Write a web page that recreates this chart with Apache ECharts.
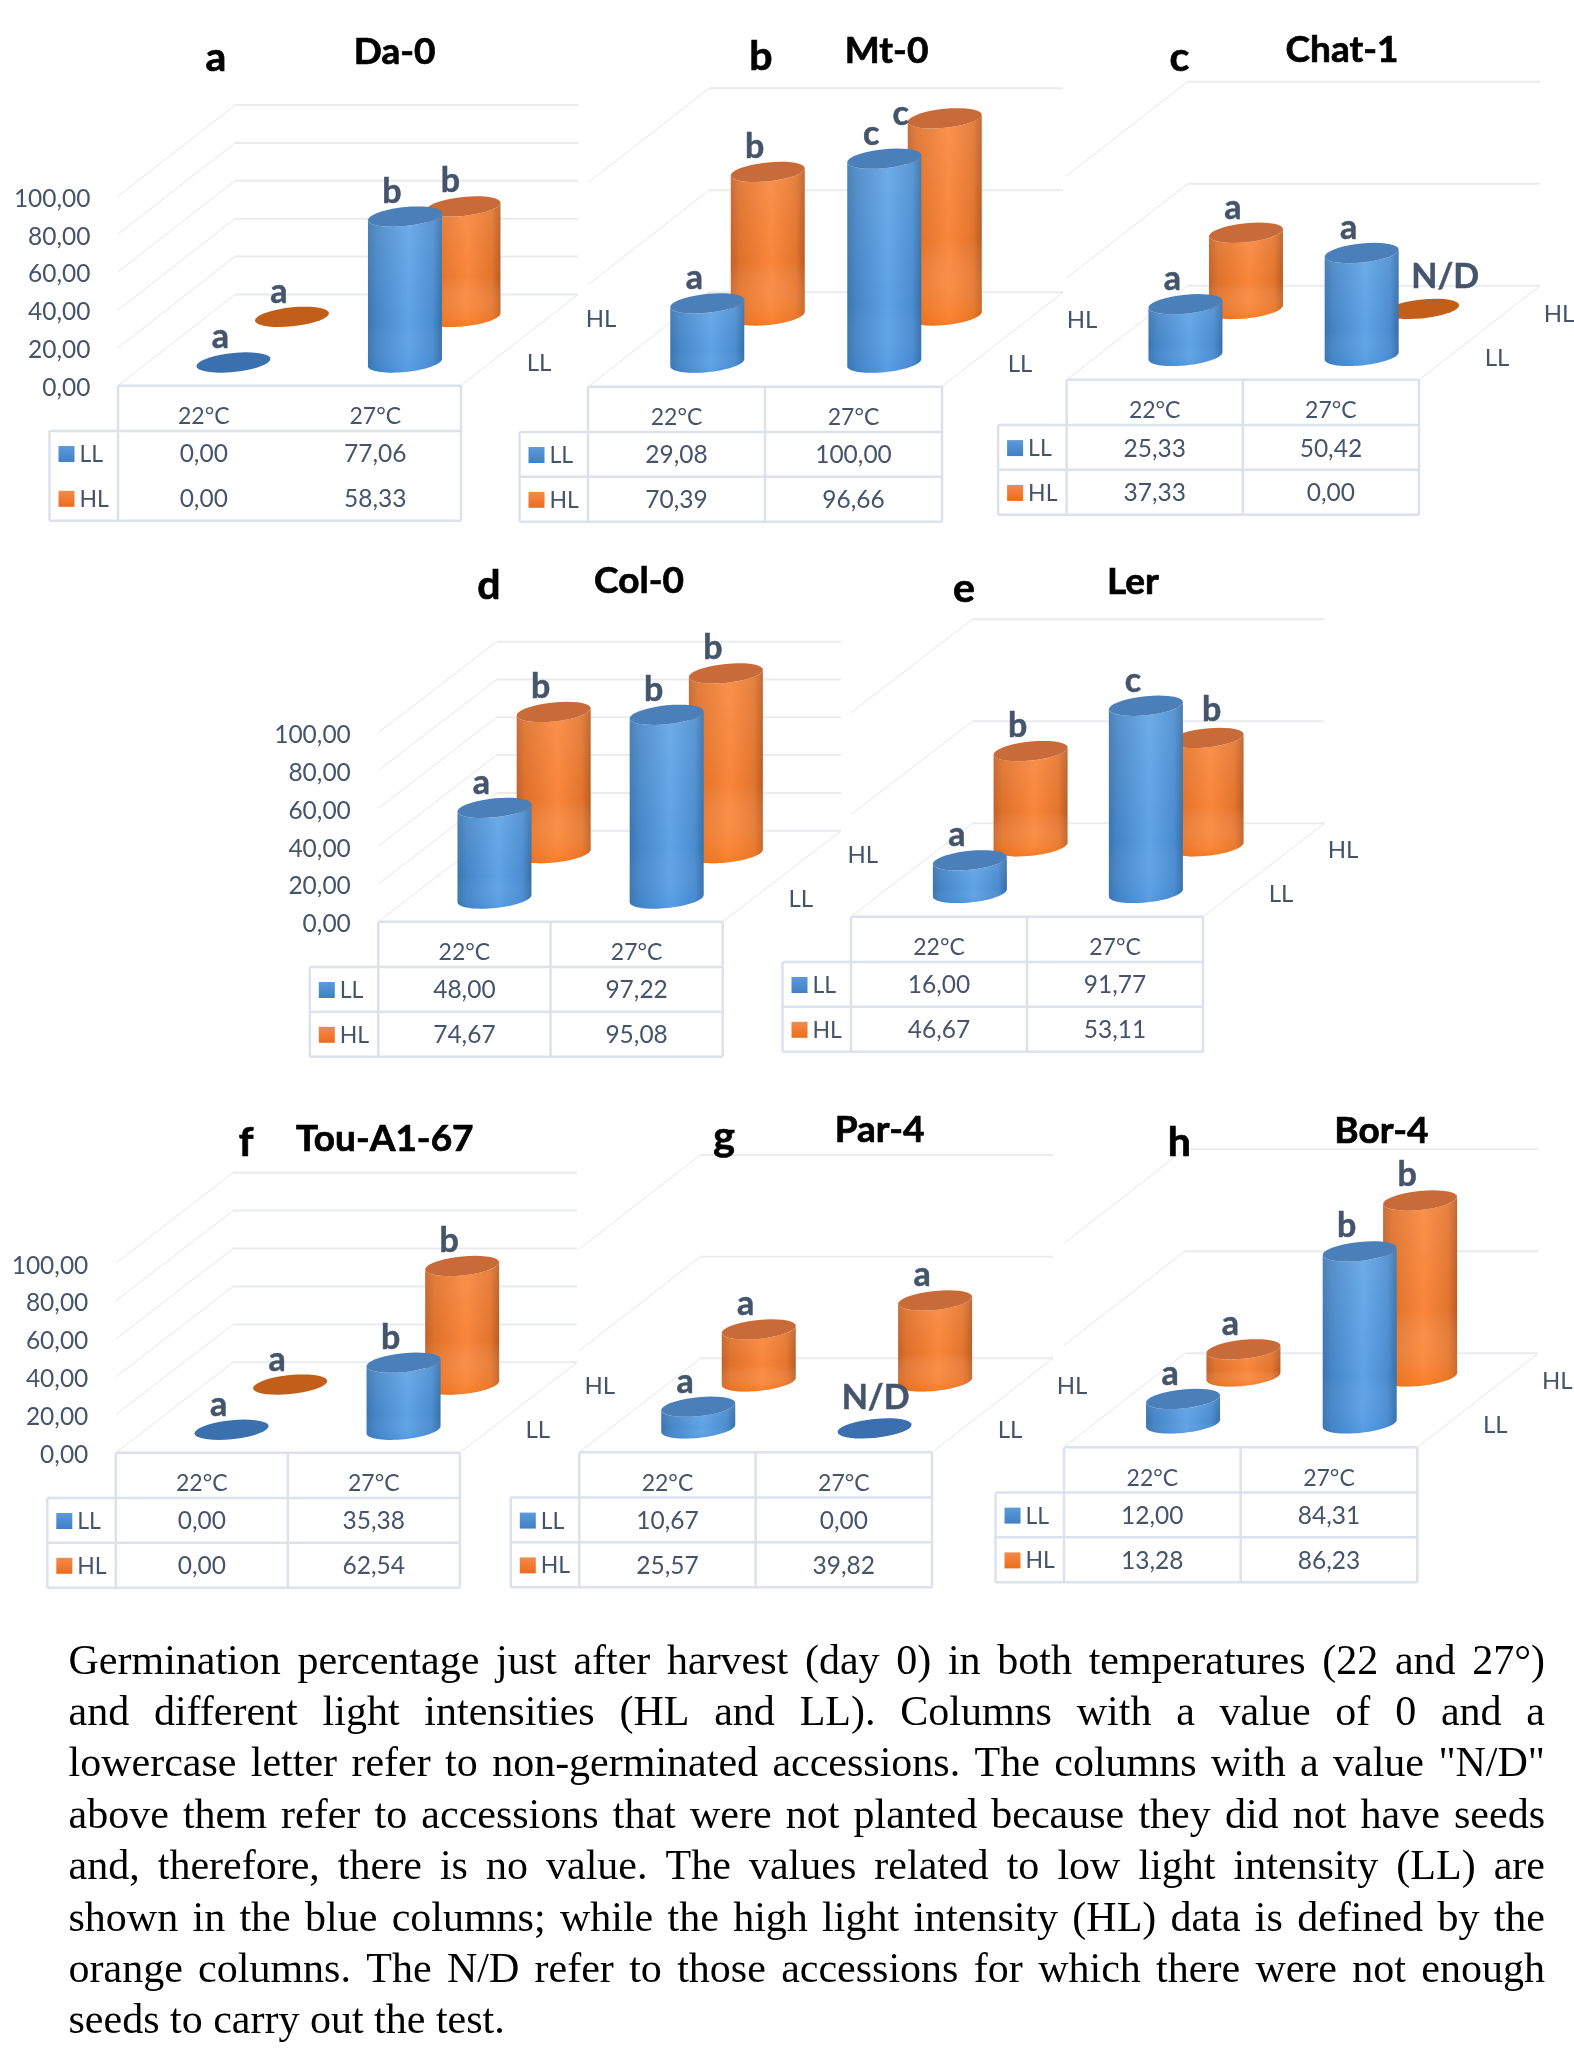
<!DOCTYPE html>
<html>
<head>
<meta charset="utf-8">
<style>html,body{margin:0;padding:0;background:#fff}#chart{width:1574px;height:2051px}</style>
<script src="https://cdn.jsdelivr.net/npm/echarts@6/dist/echarts.min.js"></script>
</head>
<body>
<div id="chart"></div>
<script>
// Germination percentage per accession, temperature and light intensity
const accessions = ['Da-0', 'Mt-0', 'Chat-1', 'Col-0', 'Ler', 'Tou-A1-67', 'Par-4', 'Bor-4'];
const panelLetters = ['a', 'b', 'c', 'd', 'e', 'f', 'g', 'h'];
const temperatures = ['22°C', '27°C'];
const lightLevels = ['LL', 'HL'];
const lowLight = [[0, 77.06], [29.08, 100], [25.33, 50.42], [48, 97.22], [16, 91.77], [0, 35.38], [10.67, 0], [12, 84.31]];
const highLight = [[0, 58.33], [70.39, 96.66], [37.33, 0], [74.67, 95.08], [46.67, 53.11], [0, 62.54], [25.57, 39.82], [13.28, 86.23]];
const lowLightMarks = [['a', 'b'], ['a', 'c'], ['a', 'a'], ['a', 'b'], ['a', 'c'], ['a', 'b'], ['a', 'N/D'], ['a', 'b']];
const highLightMarks = [['a', 'b'], ['b', 'c'], ['a', 'N/D'], ['b', 'b'], ['b', 'b'], ['a', 'b'], ['a', 'a'], ['a', 'b']];
const captionLines = [
  'Germination percentage just after harvest (day 0) in both temperatures (22 and 27°)',
  'and different light intensities (HL and LL). Columns with a value of 0 and a',
  'lowercase letter refer to non-germinated accessions. The columns with a value "N/D"',
  'above them refer to accessions that were not planted because they did not have seeds',
  'and, therefore, there is no value. The values related to low light intensity (LL) are',
  'shown in the blue columns; while the high light intensity (HL) data is defined by the',
  'orange columns. The N/D refer to those accessions for which there were not enough',
  'seeds to carry out the test.'
];

// Front floor corner, floor width, receding depth and wall height of every panel
const frames = [
  { x: 118, y: 385.7, w: 343, dx: 117, dy: -91.3, h: 189.4, step: 20, axis: true, rules: false, titleAt: [394.6, 52], letterAt: [216, 58] },
  { x: 588, y: 386.7, w: 354, dx: 121, dy: -94.4, h: 204, step: 50, axis: false, rules: true, titleAt: [886.6, 51], letterAt: [760.8, 57] },
  { x: 1066.6, y: 379.8, w: 352.4, dx: 121, dy: -94, h: 204, step: 50, axis: false, rules: true, titleAt: [1342, 50], letterAt: [1179.4, 58] },
  { x: 378.3, y: 921.7, w: 344.4, dx: 118.4, dy: -91, h: 189, step: 20, axis: true, rules: true, titleAt: [639, 581], letterAt: [489, 586] },
  { x: 851, y: 916.7, w: 352, dx: 121.4, dy: -93.4, h: 204, step: 50, axis: false, rules: true, titleAt: [1133, 582], letterAt: [964, 589] },
  { x: 115.8, y: 1452.7, w: 344, dx: 117.2, dy: -90.4, h: 189.6, step: 20, axis: true, rules: true, titleAt: [384.8, 1139], letterAt: [246, 1143] },
  { x: 579.3, y: 1452.3, w: 352.7, dx: 121, dy: -94, h: 203.3, step: 50, axis: false, rules: true, titleAt: [879.6, 1130], letterAt: [724, 1137] },
  { x: 1064, y: 1447.3, w: 353.3, dx: 120.8, dy: -94, h: 204, step: 50, axis: false, rules: true, titleAt: [1381.4, 1131], letterAt: [1179.4, 1143] }
];

// Hand-placed significance letters that do not sit at the usual spot: [panel, light, temperature, dx, dy]
const letterNudges = [[1, 'HL', 1, -44, -4], [2, 'HL', 1, 23, -32], [4, 'HL', 1, 5, -28], [6, 'LL', 1, 1, -30]];

const INK = '#44546a';
const RULE = '#dbe2ec';
const SANS = 'Lato, "Open Sans", sans-serif';
const RADIUS_X = 37, RADIUS_Y = 9.5, SHEAR = 3.6;
const DEPTH = { LL: 0.265, HL: 0.765 };
const CYLINDER_SHIFT = [-1.3, 1];

const palettes = {
  LL: {
    side: [[0, '#3b74ae'], [0.12, '#4585c6'], [0.55, '#5ea3e6'], [0.88, '#4a8cd0'], [1, '#366fa8']],
    shade: [[0, 'rgba(255,255,255,0.10)'], [0.7, 'rgba(255,255,255,0)'], [1, 'rgba(20,110,210,0.14)']],
    cap: '#4a7fb9',
    flat: '#3a70ad',
    swatch: [[0, '#5c9bd8'], [1, '#3f80c6']]
  },
  HL: {
    side: [[0, '#c2612a'], [0.12, '#df7029'], [0.55, '#f9863a'], [0.88, '#e3742c'], [1, '#b95c22']],
    shade: [[0, 'rgba(255,255,255,0.10)'], [0.6, 'rgba(255,255,255,0)'], [1, 'rgba(255,110,0,0.35)']],
    cap: '#c96b38',
    flat: '#c15f1a',
    swatch: [[0, '#f58a4a'], [1, '#ec6c1c']]
  }
};

const gradient = (x2, y2, stops) => ({
  type: 'linear', x: 0, y: 0, x2, y2,
  colorStops: stops.map(([offset, color]) => ({ offset, color }))
});

// Sampled half or full outline of a tilted cylinder rim
function rim(cx, cy, from, to) {
  const pts = [];
  for (let i = 0; i <= 36; i++) {
    const t = from + (to - from) * i / 36;
    pts.push([cx + RADIUS_X * Math.cos(t), cy + RADIUS_Y * Math.sin(t) - SHEAR * Math.cos(t)]);
  }
  return pts;
}

function cylinderRenderer(panel, light, marks) {
  const frame = frames[panel];
  const pal = palettes[light];
  return (params, api) => {
    const cat = api.value(0);
    const value = api.value(1);
    const foot = api.coord([cat, 0]);
    const head = api.coord([cat, value]);
    const cx = foot[0] + frame.dx * DEPTH[light] + CYLINDER_SHIFT[0];
    const by = foot[1] + frame.dy * DEPTH[light] + CYLINDER_SHIFT[1];
    const ty = head[1] + frame.dy * DEPTH[light] + CYLINDER_SHIFT[1];
    const children = [];
    if (value > 0) {
      const outline = rim(cx, by, Math.PI, 0).concat(rim(cx, ty, 0, Math.PI));
      children.push({ type: 'polygon', shape: { points: outline }, style: { fill: gradient(1, 0, pal.side) } });
      children.push({ type: 'polygon', shape: { points: outline }, style: { fill: gradient(0, 1, pal.shade) } });
    }
    children.push({
      type: 'polygon',
      shape: { points: rim(cx, ty, 0, Math.PI * 2) },
      style: { fill: value > 0 ? pal.cap : pal.flat }
    });
    const nudge = letterNudges.find(n => n[0] === panel && n[1] === light && n[2] === cat);
    children.push({
      type: 'text',
      z2: 10,
      style: {
        text: marks[cat],
        x: cx + (nudge ? nudge[3] : -13),
        y: ty + (nudge ? nudge[4] : -25),
        font: 'bold 34px ' + SANS,
        fill: INK,
        stroke: INK,
        lineWidth: 0.5,
        align: 'center',
        verticalAlign: 'middle'
      }
    });
    return { type: 'group', children };
  };
}

// Floor and walls: one receding line plus one back line for every axis tick
function wallRenderer(frame) {
  return (params, api) => {
    const y = api.coord([0, api.value(0)])[1];
    const left = params.coordSys.x;
    const right = left + params.coordSys.width;
    const children = [
      { type: 'line', shape: { x1: left, y1: y, x2: left + frame.dx, y2: y + frame.dy }, style: { stroke: '#e5e6e9', lineWidth: 1 } },
      { type: 'line', shape: { x1: left + frame.dx, y1: y + frame.dy, x2: right + frame.dx, y2: y + frame.dy }, style: { stroke: '#e9ebee', lineWidth: 2 } }
    ];
    if (api.value(0) === 0) {
      children.push({ type: 'line', shape: { x1: right, y1: y, x2: right + frame.dx, y2: y + frame.dy }, style: { stroke: '#e5e6e9', lineWidth: 1 } });
    }
    return { type: 'group', children };
  };
}

const textEl = (text, x, y, font, fill, align) => ({
  type: 'text', silent: true, z: 100,
  style: { text, x, y, font, fill, align: align || 'center', verticalAlign: 'middle' }
});
const heavyTextEl = (text, x, y, font) => {
  const el = textEl(text, x, y, font, '#000');
  el.style.stroke = '#000';
  el.style.lineWidth = 0.7;
  return el;
};
const lineEl = (x1, y1, x2, y2) => ({
  type: 'line', silent: true,
  shape: { x1, y1, x2, y2 }, style: { stroke: RULE, lineWidth: 2.5 }
});
const decimal = v => v.toFixed(2).replace('.', ',');

const grids = [], xAxes = [], yAxes = [], series = [], graphics = [];

frames.forEach((f, i) => {
  grids.push({ left: f.x, top: f.y - f.h, width: f.w, height: f.h });
  xAxes.push({
    type: 'category', gridIndex: i, data: temperatures,
    axisLine: { show: false }, axisTick: { show: false },
    axisLabel: { color: INK, fontFamily: SANS, fontSize: 23, margin: 19.5 }
  });
  yAxes.push({
    type: 'value', gridIndex: i, min: 0, max: 100, interval: f.step,
    axisLine: { show: false }, axisTick: { show: false }, splitLine: { show: false },
    axisLabel: {
      show: f.axis, color: INK, fontFamily: SANS, fontSize: 24.5, margin: 27.5,
      verticalAlign: 'top', lineHeight: 5, formatter: decimal
    }
  });

  const ticks = [];
  for (let t = 0; t <= 100; t += f.step) ticks.push([t]);
  series.push({
    type: 'custom', xAxisIndex: i, yAxisIndex: i, z: 1, silent: true, clip: false,
    encode: { y: 0 }, data: ticks, renderItem: wallRenderer(f)
  });
  series.push({
    name: accessions[i] + ' HL', type: 'custom', xAxisIndex: i, yAxisIndex: i, z: 3, clip: false,
    encode: { x: 0, y: 1 }, data: highLight[i].map((v, c) => [c, v]),
    renderItem: cylinderRenderer(i, 'HL', highLightMarks[i])
  });
  series.push({
    name: accessions[i] + ' LL', type: 'custom', xAxisIndex: i, yAxisIndex: i, z: 4, clip: false,
    encode: { x: 0, y: 1 }, data: lowLight[i].map((v, c) => [c, v]),
    renderItem: cylinderRenderer(i, 'LL', lowLightMarks[i])
  });

  // Titles
  graphics.push(heavyTextEl(accessions[i], f.titleAt[0], f.titleAt[1], 'bold 37px ' + SANS));
  graphics.push(heavyTextEl(panelLetters[i], f.letterAt[0], f.letterAt[1], 'bold 41px ' + SANS));

  // Depth axis names beyond the right floor edge
  const rx = f.x + f.w, font = '24px ' + SANS;
  graphics.push(textEl('LL', rx + 78, f.y - 22, font, INK));
  graphics.push(textEl('HL', rx + 140, f.y - 66, font, INK));

  // Data table under the floor
  const left = f.x - 68.5, headerY = f.y + 45.3, rowY = f.y + 90, bottom = f.y + 135, mid = f.x + f.w / 2;
  graphics.push(lineEl(f.x, f.y, rx, f.y), lineEl(f.x, f.y, f.x, bottom), lineEl(rx, f.y, rx, bottom));
  graphics.push(lineEl(left, headerY, rx, headerY), lineEl(left, bottom, rx, bottom), lineEl(left, headerY, left, bottom));
  if (f.rules) graphics.push(lineEl(mid, f.y, mid, bottom), lineEl(left, rowY, rx, rowY));
  [lowLight[i], highLight[i]].forEach((row, r) => {
    const cy = headerY + 23.5 + r * 44.8;
    graphics.push({
      type: 'rect', silent: true,
      shape: { x: left + 9, y: cy - 8.5, width: 16, height: 16 },
      style: { fill: gradient(0, 1, palettes[lightLevels[r]].swatch) }
    });
    graphics.push(textEl(lightLevels[r], left + 30, cy, '23px ' + SANS, INK, 'left'));
    row.forEach((v, c) => {
      graphics.push(textEl(decimal(v), f.x + f.w * (c + 0.5) / 2, cy, '24.5px ' + SANS, INK));
    });
  });
});

// Justified caption: the words of each line are spread to the full measure
const CAPTION_FONT = '42px "Liberation Serif", "Times New Roman", serif';
const CAPTION_LEFT = 68.5, CAPTION_RIGHT = 1545, CAPTION_TOP = 1662.6, CAPTION_LEADING = 51.4;
const ruler = document.createElement('canvas').getContext('2d');
ruler.font = CAPTION_FONT;
captionLines.forEach((line, li) => {
  const words = line.split(' ');
  const widths = words.map(w => ruler.measureText(w).width);
  const total = widths.reduce((a, b) => a + b, 0);
  const last = li === captionLines.length - 1;
  const gap = last ? ruler.measureText(' ').width : (CAPTION_RIGHT - CAPTION_LEFT - total) / (words.length - 1);
  let x = CAPTION_LEFT;
  words.forEach((w, wi) => {
    graphics.push(textEl(w, x, CAPTION_TOP + li * CAPTION_LEADING, CAPTION_FONT, '#000', 'left'));
    x += widths[wi] + gap;
  });
});

const chart = echarts.init(document.getElementById('chart'), null, { renderer: 'canvas' });
chart.setOption({
  animation: false,
  backgroundColor: '#fff',
  tooltip: { show: false },
  grid: grids,
  xAxis: xAxes,
  yAxis: yAxes,
  series,
  graphic: graphics
});
</script>
</body>
</html>
